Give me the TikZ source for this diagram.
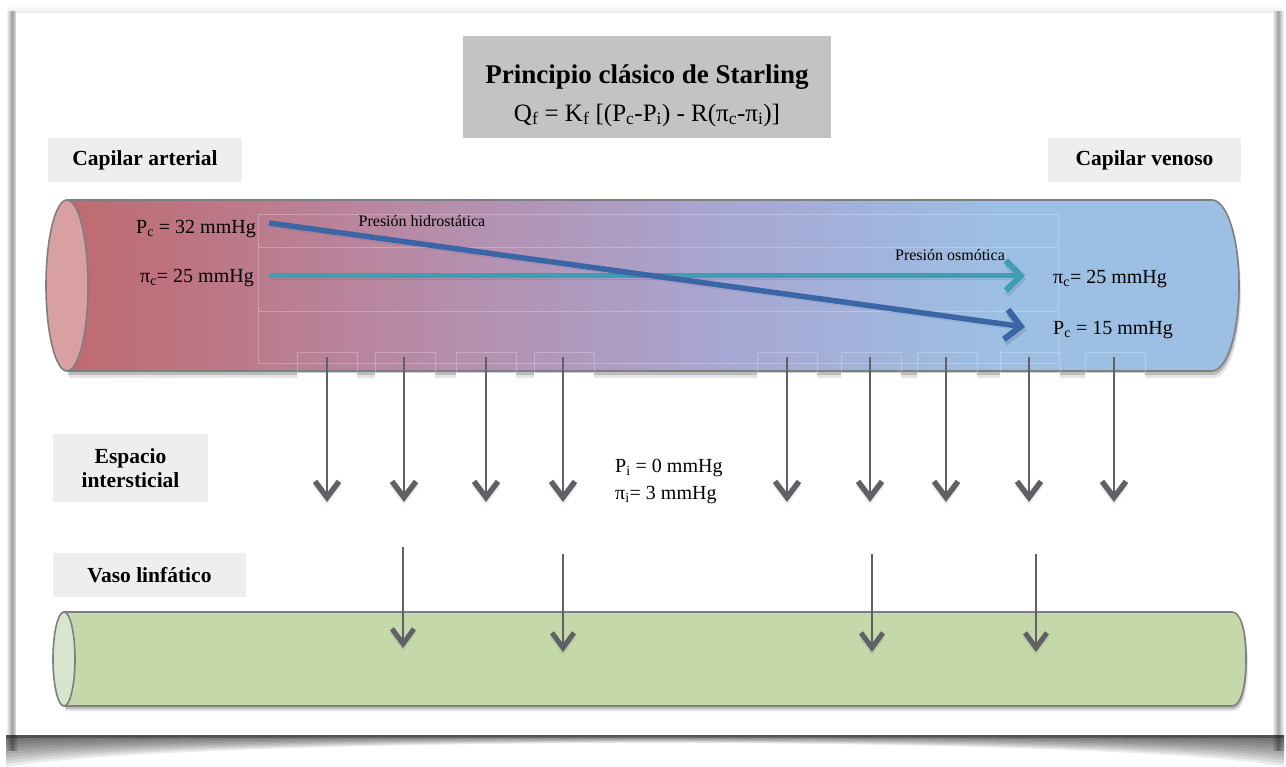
\documentclass[tikz,border=0pt]{standalone}
\usepackage{fontspec}
\setmainfont{Liberation Serif}
\usetikzlibrary{arrows.meta,calc}

\definecolor{titlegray}{HTML}{C1C3C5}
\definecolor{labelgray}{HTML}{EEEEEE}
\definecolor{framegray}{HTML}{A0A0A0}
\definecolor{tubeedge}{HTML}{7E7F82}
\definecolor{artA}{HTML}{C0676A}
\definecolor{artB}{HTML}{B78BA7}
\definecolor{mixC}{HTML}{A8A6D2}
\definecolor{venD}{HTML}{9CBFE3}
\definecolor{artEnd}{HTML}{D9A0A1}
\definecolor{lymph}{HTML}{C4D8A9}
\definecolor{lymphEnd}{HTML}{D8E5CC}
\definecolor{hydroBlue}{HTML}{3A66A5}
\definecolor{oncoTeal}{HTML}{3F9DB4}
\definecolor{flowGray}{HTML}{5F6166}

\tikzset{
  labelbox/.style={fill=labelgray, inner sep=0pt, font=\bfseries\fontsize{21.5}{24}\selectfont, align=center},
  tubeline/.style={draw=tubeedge, line width=1.6pt},
  ghost/.style={draw=white, opacity=0.25, line width=0.8pt},
  value/.style={font=\fontsize{20}{24}\selectfont, inner sep=0pt},
  tag/.style={font=\fontsize{16}{18}\selectfont, inner sep=0pt},
  hydro/.style={draw=hydroBlue, line width=5.5pt, -{Straight Barb[length=15pt,width=30pt,line width=6pt]},
    preaction={draw=black, opacity=0.12, transform canvas={shift={(1pt,-4pt)}}}},
  onco/.style={draw=oncoTeal, line width=5.5pt, -{Straight Barb[length=15pt,width=30pt,line width=6pt]},
    preaction={draw=black, opacity=0.10, transform canvas={shift={(1pt,-4pt)}}}},
  seep/.style={draw=flowGray, line width=2.8pt, -{Straight Barb[length=16pt,width=24pt,line width=5.5pt]},
    preaction={draw=black, opacity=0.07, transform canvas={shift={(0pt,-3pt)}}}},
  drain/.style={draw=flowGray, line width=1.8pt, -{Straight Barb[length=15pt,width=22pt,line width=5pt]},
    preaction={draw=black, opacity=0.07, transform canvas={shift={(0pt,-3pt)}}}},
}

\begin{document}
\begin{tikzpicture}[x=1pt,y=-1pt]
\useasboundingbox (0,0) rectangle (1286,767);
\fill[white] (0,0) rectangle (1286,767);

% page edges and curled bottom shadow
\shade[top color=white, bottom color=black!7] (8,4) rectangle (1282,13);
\shade[left color=white, right color=white, middle color=framegray] (6,12) rectangle (18,750);
\shade[left color=white, right color=white, middle color=framegray] (1272,12) rectangle (1284,750);
\foreach \k in {1,...,10} {
  \fill[black, opacity=0.08]
    (6,735) -- (1284,735) -- (1284,{735+3.2*\k})
    .. controls (1120,735) and (200,735) .. (6,{735+3.2*\k}) -- cycle;
}
\fill[black, opacity=0.25] (6,735) rectangle (1284,738);
\fill[white] (16,13) rectangle (1273,735);

% title
\node[fill=titlegray, minimum width=368pt, minimum height=102pt, inner sep=0pt] (titlebox) at (647,87) {};
\node[font=\bfseries\fontsize{27}{30}\selectfont, inner sep=0pt] (title) at (647,77) {Principio clásico de Starling};
\node[font=\fontsize{25}{28}\selectfont, inner sep=0pt] (formula) at (647,115)
  {Q\textsubscript{f} = K\textsubscript{f} [(P\textsubscript{c}-P\textsubscript{i}) - R(π\textsubscript{c}-π\textsubscript{i})]};

% side labels
\node[labelbox, minimum width=194pt, minimum height=44pt] (art) at (145,160) {Capilar arterial};
\node[labelbox, minimum width=193pt, minimum height=44pt] (ven) at (1144.5,160) {Capilar venoso};
\node[labelbox, minimum width=155pt, minimum height=68pt] (inter) at (130.5,468) {Espacio\\intersticial};
\node[labelbox, minimum width=193pt, minimum height=44pt] (lymlab) at (149.5,575) {Vaso linfático};

% capillary: shadow, graded body, open end
\def\cappath{(67,200) -- (1212,200) .. controls (1226,200) and (1239,235) .. (1239,285.5) .. controls (1239,336) and (1226,371) .. (1212,371) -- (67,371) -- cycle}
\fill[black, opacity=0.10] [shift={(2,7)}] \cappath;
\fill[black, opacity=0.18] [shift={(1,4)}] \cappath;
\begin{scope}
  \clip \cappath;
  \shade[left color=artA, right color=artB] (40,195) rectangle (420,380);
  \shade[left color=artB, right color=mixC] (419,195) rectangle (720,380);
  \shade[left color=mixC, right color=venD] (719,195) rectangle (1000,380);
  \fill[venD] (999,195) rectangle (1250,380);
\end{scope}
\draw[tubeline] \cappath;
\draw[tubeline, fill=artEnd] (67,285.5) ellipse [x radius=21, y radius=85.5];

% faint grid inside the capillary
\draw[ghost] (258,214) rectangle (1058,363);
\draw[ghost] (258,247) -- (1058,247);
\draw[ghost] (258,311) -- (1058,311);
\foreach \x in {297,375,456,534,757,841,917,1000,1085} {
  \draw[ghost] (\x,352) rectangle ++(60,20);
  \fill[white] (\x,373) rectangle ++(60,9);
}

% pressures inside the capillary
\node[value, anchor=east] (pc1) at (256,229) {P\textsubscript{c} = 32 mmHg};
\node[value, anchor=east] (pic1) at (254,278) {π\textsubscript{c}= 25 mmHg};
\node[value, anchor=west] (pic2) at (1053,279) {π\textsubscript{c}= 25 mmHg};
\node[value, anchor=west] (pc2) at (1053,330) {P\textsubscript{c} = 15 mmHg};
\node[tag] (hlab) at (422,221) {Presión hidrostática};
\node[tag] (olab) at (950,255) {Presión osmótica};

\coordinate (hs) at (269,223);
\coordinate (he) at (1025,327);
\coordinate (os) at (269,275.5);
\coordinate (oe) at (1025,275.5);
\draw[onco] (os) -- (oe);
\draw[hydro] (hs) -- (he);

% filtration into the interstitium
\foreach \x [count=\i] in {327,404,486,563,787,870,946,1029,1114} {
  \coordinate (gs\i) at (\x,357);
  \coordinate (ge\i) at (\x,502);
  \draw[seep] (gs\i) -- (ge\i);
}
\node[value, anchor=west] (pi) at (615,468) {P\textsubscript{i} = 0 mmHg};
\node[value, anchor=west] (pii) at (615,495) {π\textsubscript{i}= 3 mmHg};

% lymphatic vessel
\def\lympath{(64,612) -- (1232,612) .. controls (1240,612) and (1246,628) .. (1246,659) .. controls (1246,690) and (1240,706) .. (1232,706) -- (64,706) -- cycle}
\fill[black, opacity=0.10] [shift={(2,5)}] \lympath;
\fill[black, opacity=0.18] [shift={(1,3)}] \lympath;
\draw[tubeline, fill=lymph] \lympath;
\draw[tubeline, fill=lymphEnd] (64,659) ellipse [x radius=11, y radius=47];

\foreach \x/\y/\z [count=\i] in {403/547/648,563/554/652,872/554/652,1036/554/652} {
  \coordinate (ls\i) at (\x,\y);
  \coordinate (le\i) at (\x,\z);
  \draw[drain] (ls\i) -- (le\i);
}
\end{tikzpicture}
\end{document}
